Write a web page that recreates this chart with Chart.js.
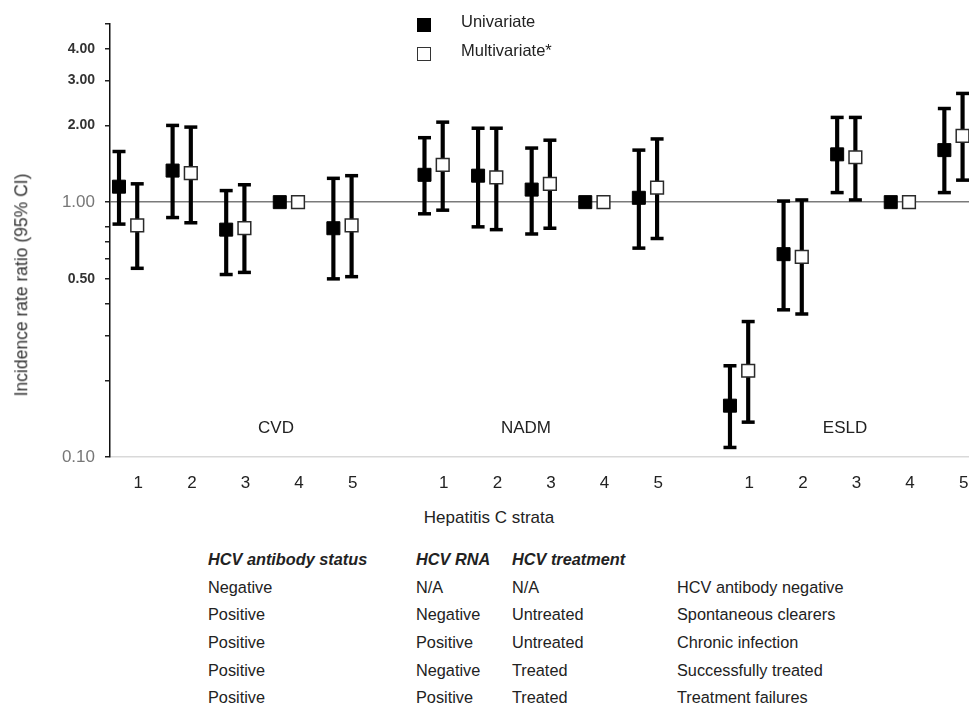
<!DOCTYPE html>
<html>
<head>
<meta charset="utf-8">
<title>Incidence rate ratio by hepatitis C strata</title>
<script src="https://cdn.jsdelivr.net/npm/chart.js@4.4.0/dist/chart.umd.min.js"></script>
<style>
  html, body { margin: 0; padding: 0; background: #fff; }
  body { font-family: 'Liberation Sans', Arial, sans-serif; color: #222; }
  #wrap { position: relative; width: 969px; height: 707px; overflow: hidden; }
  #chart { position: absolute; left: 0; top: 0; }
  .txt { position: absolute; white-space: nowrap; line-height: 1; transform: translate(-50%, -50%); }
  .lg-box { position: absolute; width: 14px; height: 14px; box-sizing: border-box; }
  .lg-txt { position: absolute; left: 461px; font-size: 16.5px; line-height: 1; transform: translateY(-50%); white-space: nowrap; }
  #ytitle { position: absolute; left: 22px; top: 285px; font-size: 17.5px; line-height: 1; white-space: nowrap;
            transform: translate(-50%, -50%) rotate(-90deg); color: #333; }
  #strataTable { position: absolute; left: 208px; top: 543.5px; display: grid;
                 grid-template-columns: 208px 96px 165px auto; font-size: 16.3px; }
  #strataTable div { height: 27.7px; line-height: 27.7px; white-space: nowrap; }
  #strataTable div.hd { height: 30px; line-height: 30px; font-weight: bold; font-style: italic; }
</style>
</head>
<body>
<div id="wrap">
  <canvas id="chart" width="969" height="500"></canvas>

  <div class="lg-box" style="left:417px; top:18px; background:#000;"></div>
  <div class="lg-txt" style="top:21px;">Univariate</div>
  <div class="lg-box" style="left:417px; top:47px; background:#fff; border:1.5px solid #333;"></div>
  <div class="lg-txt" style="top:50px;">Multivariate*</div>

  <div id="ytitle">Incidence rate ratio (95% CI)</div>
  <div class="txt" style="left:489px; top:517px; font-size:17px;">Hepatitis C strata</div>

  <div class="txt grp" style="left:276px; top:427px; font-size:17px;"></div>
  <div class="txt grp" style="left:526px; top:427px; font-size:17px;"></div>
  <div class="txt grp" style="left:845px; top:427px; font-size:17px;"></div>

  <div id="strataTable"></div>
</div>

<script>
  // outcome groups and strata (x axis)
  const groups = ['CVD', 'NADM', 'ESLD'];
  const strata = [1, 2, 3, 4, 5];

  // incidence rate ratios, group by group (CVD 1-5, NADM 1-5, ESLD 1-5); stratum 4 is the reference
  const uniIRR   = [1.15, 1.33, 0.78, 1.00, 0.79,  1.28, 1.27, 1.12, 1.00, 1.04,  0.159, 0.625, 1.54, 1.00, 1.60];
  const uniLow   = [0.82, 0.87, 0.52, null, 0.50,  0.90, 0.80, 0.75, null, 0.66,  0.109, 0.378, 1.09, null, 1.09];
  const uniHigh  = [1.58, 2.00, 1.11, null, 1.24,  1.79, 1.95, 1.63, null, 1.60,  0.228, 1.01,  2.15, null, 2.33];
  const multiIRR  = [0.81, 1.30, 0.79, 1.00, 0.81,  1.40, 1.25, 1.18, 1.00, 1.14,  0.218, 0.61,  1.50, 1.00, 1.82];
  const multiLow  = [0.55, 0.83, 0.53, null, 0.51,  0.93, 0.78, 0.79, null, 0.72,  0.137, 0.364, 1.02, null, 1.22];
  const multiHigh = [1.18, 1.97, 1.17, null, 1.27,  2.06, 1.95, 1.75, null, 1.77,  0.34,  1.02,  2.15, null, 2.67];

  // y axis ticks (log scale); only some carry a label
  const yTicks = [0.1, 0.2, 0.3, 0.4, 0.5, 0.6, 0.7, 0.8, 1, 2, 3, 4, 5];
  const yLabelled = [0.1, 0.5, 1, 2, 3, 4];

  // table under the chart
  const antibodyStatus = ['Negative', 'Positive', 'Positive', 'Positive', 'Positive'];
  const rnaStatus = ['N/A', 'Negative', 'Positive', 'Negative', 'Positive'];
  const treatment = ['N/A', 'Untreated', 'Untreated', 'Treated', 'Treated'];
  const stratumNames = ['HCV antibody negative', 'Spontaneous clearers', 'Chronic infection',
                        'Successfully treated', 'Treatment failures'];

  const GROUP_STEP = 5.7;    // strata units from one group start to the next
  const MULTI_SHIFT = 0.34;  // multivariate marker sits right of univariate
  const LABEL_SHIFT = 0.36;

  const xAt = k => Math.floor(k / strata.length) * GROUP_STEP + (k % strata.length);
  const points = (vals, shift) => vals.map((v, k) => ({ x: xAt(k) + shift, y: v }));
  const ranges = (lo, hi, shift) =>
    lo.map((l, k) => (l == null ? null : { x: xAt(k) + shift, y: [l, hi[k]] })).filter(Boolean);
  const caps = (lo, hi, shift) =>
    lo.flatMap((l, k) => (l == null ? [] : [{ x: xAt(k) + shift, y: l }, { x: xAt(k) + shift, y: hi[k] }]));
  const xTickPos = groups.flatMap((g, gi) => strata.map((s, si) => xAt(gi * strata.length + si) + LABEL_SHIFT));

  Chart.defaults.font.family = "'Liberation Sans', Arial, sans-serif";
  Chart.defaults.color = '#222';

  new Chart(document.getElementById('chart'), {
    type: 'scatter',
    data: {
      datasets: [
        { label: 'Univariate', data: points(uniIRR, 0), pointStyle: 'rect', pointRadius: 9.2, pointHoverRadius: 9.2,
          backgroundColor: '#000', borderColor: '#000', borderWidth: 1, order: 0 },
        { label: 'Multivariate*', data: points(multiIRR, MULTI_SHIFT), pointStyle: 'rect', pointRadius: 9, pointHoverRadius: 9,
          backgroundColor: '#fff', borderColor: '#2a2a2a', borderWidth: 1.5, order: 0 },
        { type: 'bar', label: 'Univariate CI', data: ranges(uniLow, uniHigh, 0),
          backgroundColor: '#000', barThickness: 3.5, grouped: false, order: 2 },
        { type: 'bar', label: 'Multivariate CI', data: ranges(multiLow, multiHigh, MULTI_SHIFT),
          backgroundColor: '#000', barThickness: 3.5, grouped: false, order: 2 },
        { label: 'CI caps', data: caps(uniLow, uniHigh, 0).concat(caps(multiLow, multiHigh, MULTI_SHIFT)),
          pointStyle: 'line', pointRadius: 6.5, pointHoverRadius: 6.5, borderColor: '#000', borderWidth: 3.5, order: 1 }
      ]
    },
    options: {
      responsive: false,
      animation: false,
      events: [],
      layout: { autoPadding: false, padding: { top: 24, left: 0, right: 0, bottom: 0 } },
      plugins: { legend: { display: false }, tooltip: { enabled: false } },
      scales: {
        x: {
          type: 'linear',
          offset: false,
          min: -0.168,
          max: 15.86,
          afterBuildTicks: s => { s.ticks = xTickPos.map(v => ({ value: v })); },
          afterFit: s => { s.height = 43; s.paddingLeft = 0; s.paddingRight = 0; },
          ticks: {
            autoSkip: false, maxRotation: 0, padding: 16,
            font: { size: 17 }, color: '#222',
            callback: (v, i) => strata[i % strata.length]
          },
          grid: { display: true, offset: false, drawOnChartArea: false, drawTicks: false, color: 'transparent' },
          border: { display: true, color: '#d9d9d9', width: 1.5 }
        },
        y: {
          type: 'logarithmic',
          min: 0.1,
          max: 5,
          afterBuildTicks: s => { s.ticks = yTicks.map(v => ({ value: v })); },
          afterFit: s => { s.width = 110; },
          ticks: {
            padding: 10,
            callback: v => (yLabelled.includes(v) ? v.toFixed(2) : ''),
            font: ctx => (ctx.tick && (ctx.tick.value === 1 || ctx.tick.value === 0.1)
              ? { size: 17 } : { size: 14, weight: 'bold' }),
            color: ctx => (ctx.tick && (ctx.tick.value === 1 || ctx.tick.value === 0.1) ? '#777' : '#333')
          },
          grid: {
            color: ctx => (ctx.tick && ctx.tick.value === 1 ? '#7a7a7a' : 'transparent'),
            lineWidth: 1.5,
            tickColor: '#222',
            tickWidth: 1.5,
            tickLength: 5
          },
          border: { display: true, color: '#111', width: 1.5 }
        }
      }
    }
  });

  // group captions inside the plot
  document.querySelectorAll('.grp').forEach((el, i) => { el.textContent = groups[i]; });

  // strata definition table
  const tbl = document.getElementById('strataTable');
  ['HCV antibody status', 'HCV RNA', 'HCV treatment', ''].forEach(h => {
    const d = document.createElement('div');
    d.className = 'hd';
    d.textContent = h;
    tbl.appendChild(d);
  });
  stratumNames.forEach((name, i) => {
    [antibodyStatus[i], rnaStatus[i], treatment[i], name].forEach(t => {
      const d = document.createElement('div');
      d.textContent = t;
      tbl.appendChild(d);
    });
  });
</script>
</body>
</html>
